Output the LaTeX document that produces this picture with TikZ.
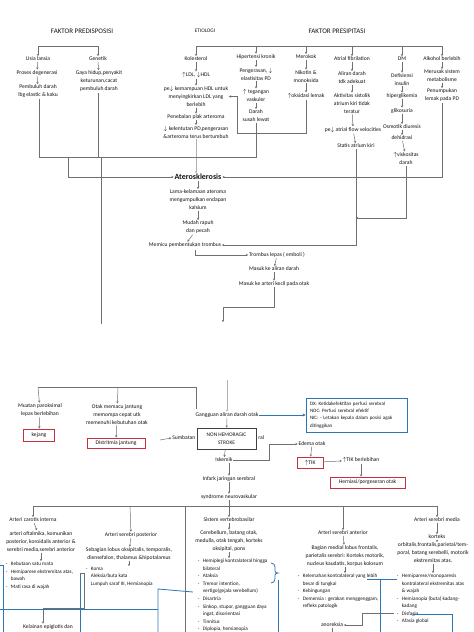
\documentclass[tikz,border=0pt]{standalone}
\usepackage{fontspec}
\setmainfont{Carlito}
\usetikzlibrary{arrows.meta}
\definecolor{lnc}{HTML}{707070}
\definecolor{txc}{HTML}{141414}
\definecolor{redb}{HTML}{C9303E}
\definecolor{blu}{HTML}{2E75B6}
\newcommand\tx{\fontsize{5.6}{8}\selectfont}
\newcommand\lx{\fontsize{5.2}{7.5}\selectfont}
\newcommand\lbul{\makebox[5pt][l]{-}}
\newcommand\lind{\hspace*{5pt}}
\begin{document}
\begin{tikzpicture}[x=1pt,y=-1pt,
  every node/.style={inner sep=0.7pt,font=\tx,text=txc,align=center},
  hd/.style={font=\fontsize{7}{8}\selectfont},
  ln/.style={draw=lnc,line width=0.5pt},
  faint/.style={draw=black!30,line width=0.5pt},
  arr/.style={ln,-{Stealth[length=2.3pt,width=2.3pt]}},
  farr/.style={faint,-{Stealth[length=2.3pt,width=2.3pt]}},
  lst/.style={font=\lx,align=left,anchor=north west},
  rbox/.style={draw=redb,line width=0.9pt,inner sep=1pt},
  bl/.style={draw=blu,line width=0.8pt},
  blarr/.style={bl,-{Stealth[length=3pt,width=3pt]}}]
\useasboundingbox (0,0) rectangle (474,632);
\fill[white] (0,0) rectangle (474,632);

% ---------- headings
\node[hd] (pre) at (82,31) {FAKTOR PREDISPOSISI};
\node[font=\fontsize{5.3}{7}\selectfont] (eti) at (205,31) {ETIOLOGI};
\node[hd] (pres) at (337,31) {FAKTOR PRESIPITASI};

% ---------- predisposisi
\coordinate (b1) at (38,46); \coordinate (b2) at (98,46);
\draw[ln] (b1) -- (b2);
\node (usia) at (38,59) {Usia lansia};
\node (proses) at (37,73) {Proses degenerasi};
\node (pemb) at (38,91.5) {Pembuluh darah\\lbg elastic \& kaku};
\node (gen) at (98,59) {Genetik};
\node (gaya) at (99,81.5) {Gaya hidup,penyakit\\keturunan,cacat\\pembuluh darah};
\draw[arr] (b1) -- (usia); \draw[arr] (usia) -- (proses); \draw[arr] (proses) -- (pemb);
\draw[arr] (b2) -- (gen); \draw[arr] (gen) -- (gaya);

% ---------- etiologi bracket
\coordinate (e1) at (196,46); \coordinate (e6) at (442,46);
\draw[ln] (e1) -- (e6);

% kolesterol
\node (kol) at (196,59) {Kolesterol};
\node (ldl) at (196,75) {$\uparrow$LDL, $\downarrow$HDL};
\node (hdl) at (196,96.5) {pe$\downarrow$ kemampuan HDL untuk\\menyingkirkan LDL yang\\berlebih};
\node (pen) at (196,117) {Penebalan plak arteroma};
\node (kel) at (196,132) {$\downarrow$ kelentutan PD,pengerasan\\\&arteroma terus bertumbuh};
\draw[arr] (e1) -- (kol); \draw[arr] (kol) -- (ldl); \draw[arr] (ldl) -- (hdl);
\draw[arr] (hdl) -- (pen); \draw[arr] (pen) -- (kel);

% hipertensi
\node (hip) at (256,57) {Hipertensi kronik};
\node (peng) at (256,74) {Pengerasan, $\downarrow$\\elastisitas PD};
\node (teg) at (256,95.5) {$\uparrow$ tegangan\\vaskuler};
\node (darah) at (256,116) {Darah\\susah lewat};
\draw[arr] (hip.north |- e1) -- (hip); \draw[arr] (hip) -- (peng);
\draw[arr] (peng) -- (teg); \draw[arr] (teg) -- (darah);

% merokok
\node (mer) at (306,57) {Merokok};
\node (nik) at (306,76.5) {Nikotin \&\\monoksida};
\node (oks) at (306,96) {$\uparrow$oksidasi lemak};
\draw[arr] (mer.north |- e1) -- (mer); \draw[arr] (mer) -- (nik); \draw[arr] (nik) -- (oks);
\coordinate (m1) at (237,133);
\draw[arr] (oks.south) |- (m1) |- (hdl.east);

% atrial
\node (atr) at (352,59) {Atrial fibrilation};
\node (alir) at (352,78) {Aliran darah\\tdk adekuat};
\node (akt) at (352,103.5) {Aktivitas sistolik\\atrium kiri tidak\\teratur};
\node (flow) at (353,130) {pe$\downarrow$ atrial flow velocities};
\node (stat) at (356,146) {Statis atrium kiri};
\draw[arr] (atr.north |- e1) -- (atr); \draw[arr] (atr) -- (alir); \draw[arr] (alir) -- (akt);
\draw[arr] (akt) -- (flow); \draw[arr] (flow) -- (stat);

% DM
\node (dm) at (402,59) {DM};
\node (def) at (402,79.5) {Defisiensi\\insulin};
\node (hiper) at (402,96) {hiperglikemia};
\node (gli) at (402,111) {glikosuria};
\node (osm) at (402,127) {Osmotik diuresis};
\node (deh) at (402,138) {dehidrasi};
\node (visk) at (406,158.5) {$\uparrow$viskositas\\darah};
\draw[arr] (dm.north |- e1) -- (dm); \draw[arr] (dm) -- (def); \draw[arr] (def) -- (hiper);
\draw[arr] (hiper) -- (gli); \draw[arr] (gli) -- (osm); \draw[arr] (osm) -- (deh); \draw[arr] (deh) -- (visk);

% alkohol
\node (alk) at (442,59) {Alkohol berlebih};
\node (meru) at (442,76) {Merusak sistem\\metabolisme};
\node (penu) at (442,95.5) {Penumpukan\\lemak pada PD};
\draw[arr] (e6) -- (alk); \draw[arr] (alk) -- (meru); \draw[arr] (meru) -- (penu);

% ---------- aterosklerosis chain
\node[font=\fontsize{8}{9}\selectfont\bfseries] (ater) at (198,177) {Aterosklerosis};
\node (lama) at (198,200) {Lama-kelamaan ateroma\\mengumpulkan endapan\\kalsium};
\node (mudah) at (198,227.5) {Mudah rapuh\\dan pecah};
\node (trom) at (185,245) {Memicu pembentukan trombus};
\node (emb) at (277,255) {Trombus lepas ( emboli )};
\node (mas1) at (274,269) {Masuk ke aliran darah};
\node (mas2) at (274,284) {Masuk ke arteri kecil pada otak};
\draw[farr] (kel) -- (ater.north -| kel);
\draw[arr] (ater) -- (lama); \draw[arr] (lama) -- (mudah); \draw[arr] (mudah) -- (trom);
\coordinate (t1) at (195,250);
\draw[arr] (t1) |- (emb.west);
\draw[arr] (emb) -- (mas1); \draw[arr] (mas1) -- (mas2);
\coordinate (t2) at (223,307); \coordinate (t3) at (223,322);
\draw[arr] (mas2.south) |- (t2) -- (t3);

% collector lines into aterosklerosis
\coordinate (c1) at (39,157); \coordinate (c2) at (98,157); \coordinate (c3) at (256,157);
\coordinate (c4) at (68,157); \coordinate (c5) at (101,157); \coordinate (c6) at (101,324);
\draw[ln] (pemb.south -| c1) -- (c1) -- (c3) -- (darah.south -| c3);
\draw[ln] (gaya.south -| c2) -- (c2);
\draw[arr] (c4) |- (ater.west);
\draw[ln] (c5) -- (c6);
\draw[arr] (penu.south) |- (ater.east);
\draw[arr] (stat.south) |- (trom.east);
\coordinate (j1) at (stat.south |- 0,218);
\draw[arr] (visk.south) |- (j1);

% ================= second page
\coordinate (d0) at (38,387); \coordinate (d1) at (118,387); \coordinate (d2) at (196,387);
\coordinate (d3) at (196,409);
\draw[ln] (d0) -- (d2) -- (d3);
\node (muat) at (40,410) {Muatan paroksimal\\lepas berlebihan};
\node[rbox,minimum width=31pt,minimum height=12pt] (kej) at (39,435) {kejang};
\node (otak) at (117,414.5) {Otak memacu jantung\\memompa cepat utk\\memenuhi kebutuhan otak};
\node[rbox,minimum width=58pt,minimum height=10pt] (dis) at (116,443) {Distritmia jantung};
\draw[arr] (d0) -- (muat); \draw[arr] (muat) -- (kej);
\draw[arr] (d1) -- (otak); \draw[arr] (otak) -- (dis);

\node (gang) at (227,415) {Gangguan aliran darah otak};
\coordinate (g0) at (227,380);
\draw[farr] (g0) -- (gang);
\node[draw=black!75,line width=0.7pt,fill=white,minimum width=59pt,minimum height=21pt,font=\fontsize{5.4}{8}\selectfont] (nhs) at (226.5,438.5) {NON HEMORAGIC\\STROKE};
\node[anchor=east] (sumb) at ([xshift=-0.5pt]nhs.west |- 0,438) {Sumbatan};
\node[anchor=west] (sumr) at ([xshift=1pt]nhs.east |- 0,438) {ral};
\coordinate (s0) at (160,440);
\draw[arr] (s0) -- (sumb.west);
\draw[arr] (gang) -- (nhs);
\node[draw=blu,line width=0.8pt,minimum width=101pt,minimum height=34pt,text width=93pt,align=left,font=\fontsize{5}{7.3}\selectfont] (dx) at (356.5,415) {DX: Ketidakefektifan perfusi serebral\\NOC: Perfusi serebral efektif\\NIC: - Letakan kepala dalam posisi agak\\ditinggikan};
\draw[blarr] (gang.east) -- (dx.west);

\node (isk) at (224,460) {Iskemik};
\draw[arr] (nhs) -- (isk);
\node (edema) at (312,444) {Edema otak};
\coordinate (i1) at (269,460);
\draw[arr] (isk.east) -- (i1) |- (edema.west);
\node[rbox,minimum width=26pt,minimum height=11pt] (tik) at (310,462.5) {$\uparrow$TIK};
\draw[arr] (edema) -- (tik);
\node (tikb) at (361,460) {$\uparrow$TIK berlebihan};
\draw[arr] (tik) -- (tikb);
\node[rbox,minimum width=75pt,minimum height=11pt] (hern) at (367.5,482.5) {Herniasi/pergeseran otak};
\draw[arr] (tikb) -- (hern.north -| tikb);

\node (inf) at (229,479) {Infark jaringan serebral};
\node (syn) at (229,497) {syndrome neurovaskular};
\draw[arr] (isk.south -| inf) -- (inf); \draw[arr] (inf) -- (syn);

% bottom bracket
\coordinate (f0) at (33,506); \coordinate (f1) at (130,506); \coordinate (f3) at (343,506);
\coordinate (f4) at (437,506); \coordinate (v0) at (185,506); \coordinate (v1) at (185,632);
\draw[ln] (f0) -- (f4);
\draw[ln] (v0) -- (v1);

% carotis
\node (caro) at (33,520) {Arteri carotis interna};
\node (oft) at (41,541.5) {arteri oftalmika, komunikan\\posterior, koroidalis anterior \&\\serebri media,serebri anterior};
\node[lst] (l1) at (5,561) {\lbul Kebutaan satu mata\\\lbul Hemiparese ekstremitas atas,\\\lind bawah\\\lbul Mati rasa di wajah};
\draw[arr] (f0) -- (caro); \draw[arr] (caro) -- (oft); \draw[arr] (oft) -- (l1.north -| oft);

% posterior
\node (post) at (131,535) {Arteri serebri posterior};
\node (seb) at (129,554) {Sebagian lobus oksipitalis, temporalis,\\diensefalon, thalamus \&hipotalamus};
\node[lst] (l2) at (85,566) {\lbul Koma\\\lind Aleksia/buta kata\\\lind Lumpuh saraf III, Hemianopia};
\draw[arr] (f1) -- (post); \draw[arr] (post) -- (seb); \draw[arr] (seb) -- (l2.north -| seb);
\node (kep) at (48,627) {Kelainan epiglotis dan};
\coordinate (k1) at (80,573); \coordinate (k2) at (84,573); \coordinate (k3) at (84,608); \coordinate (k4) at (43,608);
\draw[ln] (k1) -- (k2) -- (k3) -- (k4);
\draw[arr] (k4) -- (kep.north -| k4);

% vertebrobasilar
\node (sist) at (229,520) {Sistem vertebrobasilar};
\node (cer) at (229,541) {Cerebellum, batang otak,\\medulla, otak tengah, korteks\\oksipital, pons};
\node[lst,font=\fontsize{5.2}{7.6}\selectfont] (l3) at (197,558) {\lbul Hemiplegi kontralateral hingga\\\lind bilateral\\\lbul Ataksia\\\lbul Tremor intention,\\\lind vertigo(gejala serebellum)\\\lbul Disartria\\\lbul Sinkop, stupor, gangguan daya\\\lind ingat, disorientasi\\\lbul Tinnitus\\\lbul Diplopia, hemianopia};
\draw[arr] (syn) -- (sist); \draw[arr] (sist) -- (cer); \draw[arr] (cer) -- (l3.north -| cer);

% anterior
\node (ant) at (343,533) {Arteri serebri anterior};
\node (bag) at (345,556) {Bagian medial lobus frontalis,\\parietalis serebri: Korteks motorik,\\nucleus kaudatis, korpus kolosum};
\node[lst] (l4) at (297,573) {\lbul Kelemahan kontralateral yang lebih\\\lind besar di tungkai\\\lbul Kebingungan\\\lbul Demensia : gerakan menggenggam,\\\lind refleks patologik};
\draw[arr] (f3) -- (ant); \draw[arr] (ant) -- (bag); \draw[arr] (bag) -- (l4.north -| bag);
\node (anor) at (332,625) {anoreksia};

% media
\node (med) at (437,520) {Arteri serebri media};
\node (kort) at (437,537) {korteks};
\node (orb) at (433,553) {orbitalis,frontalis,parietal/tem-\\poral, batang serebelli, motorik\\ekstremitas atas.};
\node[lst] (l5) at (396,573) {\lbul Hemiparese/monoparesis\\\lind kontralateral ekstremitas atas\\\lind \& wajah\\\lbul Hemianopia (buta) kadang-\\\lind kadang\\\lbul Disfagia\\\lbul Afasia global};
\draw[arr] (f4) -- (med); \draw[arr] (med) -- (kort); \draw[arr] (kort) -- (orb.north -| kort);
\draw[arr] (orb) -- (l5.north -| orb);
\coordinate (a1) at (394,613.5); \coordinate (a2) at (362,613.5);
\draw[arr] (a1) -- (a2) |- (anor.east);
\coordinate (a3) at (332,632);
\draw[ln] (anor.south) -- (a3);

% blue connectors
\draw[bl] (0,565) -- (3,565) -- (3,632);
\draw[bl] (193,592) -- (158,589) -- (158,632);
\draw[bl] (158,609) -- (0,609);
\draw[bl] (80,574) -- (80,632);
\draw[bl] (271,563) to[out=0,in=90] (275,567) -- (275,571) to[out=-90,in=180] (278,573) to[out=180,in=90] (275,575) -- (275,579) to[out=-90,in=0] (271,583);
\draw[bl] (278,580) -- (278,632);
\draw[bl] (367,579) -- (397,579);
\draw[bl] (380,579) -- (380,632);
\draw[bl] (413,614) -- (452,614) -- (452,632);
\end{tikzpicture}
\end{document}
